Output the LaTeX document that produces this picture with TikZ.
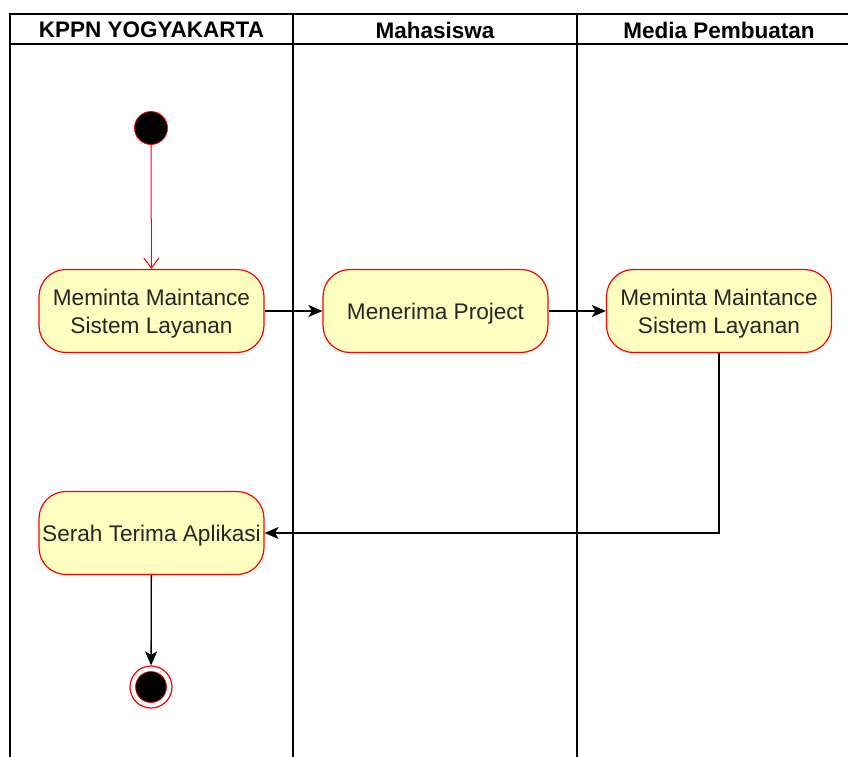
\documentclass[tikz,border=0pt]{standalone}
\usepackage{fontspec}
\setmainfont{Liberation Sans}
\usetikzlibrary{arrows.meta,positioning}
\definecolor{actfill}{HTML}{FFFFC0}
\definecolor{actline}{HTML}{FF0000}
\newcommand{\acttext}[1]{\parbox{220pt}{\centering\vspace*{5pt}#1}}
\tikzset{
  lane/.style={draw=black, line width=1.3pt},
  lanehead/.style={font=\fontsize{22.5}{26}\selectfont\bfseries, anchor=center},
  activity/.style={draw=actline, fill=actfill, line width=1.2pt, rounded corners=27pt,
    minimum width=225pt, minimum height=83pt, align=center, inner sep=2pt,
    font=\fontsize{22.6}{28}\selectfont, text=black!85},
  flow/.style={draw=black, line width=1.3pt, -{Stealth[length=14pt,width=12pt,inset=3.5pt]}},
  redflow/.style={draw=actline, line width=1pt, -{Straight Barb[length=10pt,width=15pt,line width=1pt]}},
  startnode/.style={circle, draw=actline, fill=black, line width=0.8pt, minimum size=33pt, inner sep=0pt},
  endring/.style={circle, draw=actline, fill=white, line width=1.2pt, minimum size=42pt, inner sep=0pt},
  endcore/.style={circle, draw=actline, fill=black, line width=0.6pt, minimum size=31pt, inner sep=0pt},
}
\begin{document}
\begin{tikzpicture}[x=1pt,y=-1pt]
\useasboundingbox (0,0) rectangle (848,757);
\clip (0,0) rectangle (848,757);
% swimlanes
\draw[lane] (10,757) -- (10,14) -- (861,14) -- (861,757);
\draw[lane] (10,44) -- (861,44);
\draw[lane] (293,14) -- (293,757);
\draw[lane] (577,14) -- (577,757);
\node[lanehead] (h1) at (151.5,30) {KPPN YOGYAKARTA};
\node[lanehead] (h2) at (435,30) {Mahasiswa};
\node[lanehead] (h3) at (719,30) {Media Pembuatan};
% nodes
\node[startnode] (start) at (151,128) {};
\node[activity] (a1) at (151.5,311) {\acttext{Meminta Maintance\\Sistem Layanan}};
\node[activity] (a2) at (435.5,311) {\acttext{Menerima Project}};
\node[activity] (a3) at (719,311) {\acttext{Meminta Maintance\\Sistem Layanan}};
\node[activity] (a4) at (151.5,533) {\acttext{Serah Terima Aplikasi}};
\node[endring] (stop) at (151,687) {};
\node[endcore] (stopc) at (151,687) {};
% flows
\draw[redflow] (start) -- (a1);
\draw[flow] (a1) -- (a2);
\draw[flow] (a2) -- (a3);
\draw[flow] (a3.south) |- (a4.east);
\draw[flow] (a4) -- (stop);
\end{tikzpicture}
\end{document}
